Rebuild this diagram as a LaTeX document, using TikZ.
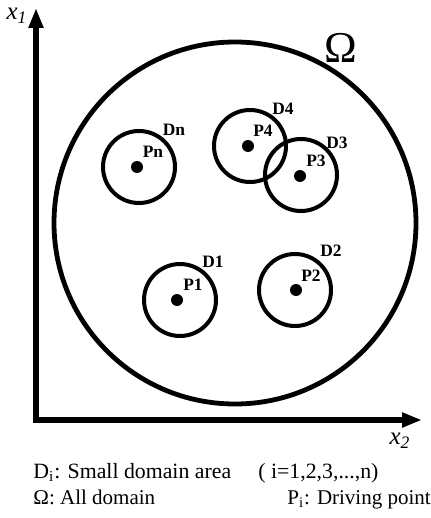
\documentclass[tikz,border=0pt]{standalone}
\usepackage{fontspec}
\setmainfont{Liberation Serif}
\usetikzlibrary{arrows.meta, positioning}
\tikzset{
	axisline/.style={line width=2.8pt, -{Triangle[length=10pt, width=7pt]}},
	alldomain/.style={circle, draw, line width=2.4pt, minimum size=181pt, inner sep=0pt},
	subdomain/.style={circle, draw, line width=2pt, minimum size=36pt, inner sep=0pt},
	drive/.style={circle, fill, minimum size=6pt, inner sep=0pt},
	tag/.style={font=\fontsize{8.7}{10}\selectfont\bfseries, inner sep=0pt},
	axislabel/.style={font=\fontsize{12.5}{14}\selectfont\itshape, inner sep=0pt},
	legend/.style={font=\fontsize{10.5}{12}\selectfont, anchor=base west, inner sep=0pt},
}
\begin{document}
\begin{tikzpicture}[x=0.5pt, y=-0.5pt]
		\useasboundingbox (0,0) rectangle (431,518);
		% axes
		\coordinate (origin) at (36,420);
		\coordinate (x1end) at (36,8);
		\coordinate (x2end) at (422,420);
		\draw[axisline] ([yshift=-1.4pt]origin) -- (x1end);
		\draw[axisline] ([xshift=-1.4pt]origin) -- (x2end);
		\node[axislabel] (x1) at (17,16) {x\textsubscript{1}};
		\node[axislabel] (x2) at (400,441) {x\textsubscript{2}};
		% whole domain
		\node[alldomain] (omega) at (235,223) {};
		\node[font=\fontsize{22}{24}\selectfont, inner sep=0pt] (omegatag) at (341,48) {Ω};
		% small domains and driving points
		\node[subdomain] (dn) at (139,167) {};
		\node[drive] (pn) at (137,167) {};
		\node[tag] at (174,130) {Dn};
		\node[tag] at (153,152) {Pn};
		\node[subdomain] (d4) at (250,146) {};
		\node[drive] (p4) at (248,146) {};
		\node[tag] at (283,109) {D4};
		\node[tag] at (263,131) {P4};
		\node[subdomain] (d3) at (301,175) {};
		\node[drive] (p3) at (300,176) {};
		\node[tag] at (337,143) {D3};
		\node[tag] at (316,161) {P3};
		\node[subdomain] (d1) at (180,300) {};
		\node[drive] (p1) at (177,300) {};
		\node[tag] at (213,262) {D1};
		\node[tag] at (193,285) {P1};
		\node[subdomain] (d2) at (295,290) {};
		\node[drive] (p2) at (296,290) {};
		\node[tag] at (331,251) {D2};
		\node[tag] at (311,276) {P2};
		% legend
		\node[legend, font=\fontsize{10.9}{13}\selectfont] (leg1) at (33,478) {D\textsubscript{i}: Small domain area};
		\node[legend, font=\fontsize{10.9}{13}\selectfont] (leg2) at (258,478) {( i=1,2,3,...,n)};
		\node[legend] (leg3) at (33,504) {Ω: All domain};
		\node[legend] (leg4) at (287,504) {P\textsubscript{i}: Driving point};
	\end{tikzpicture}
\end{document}
